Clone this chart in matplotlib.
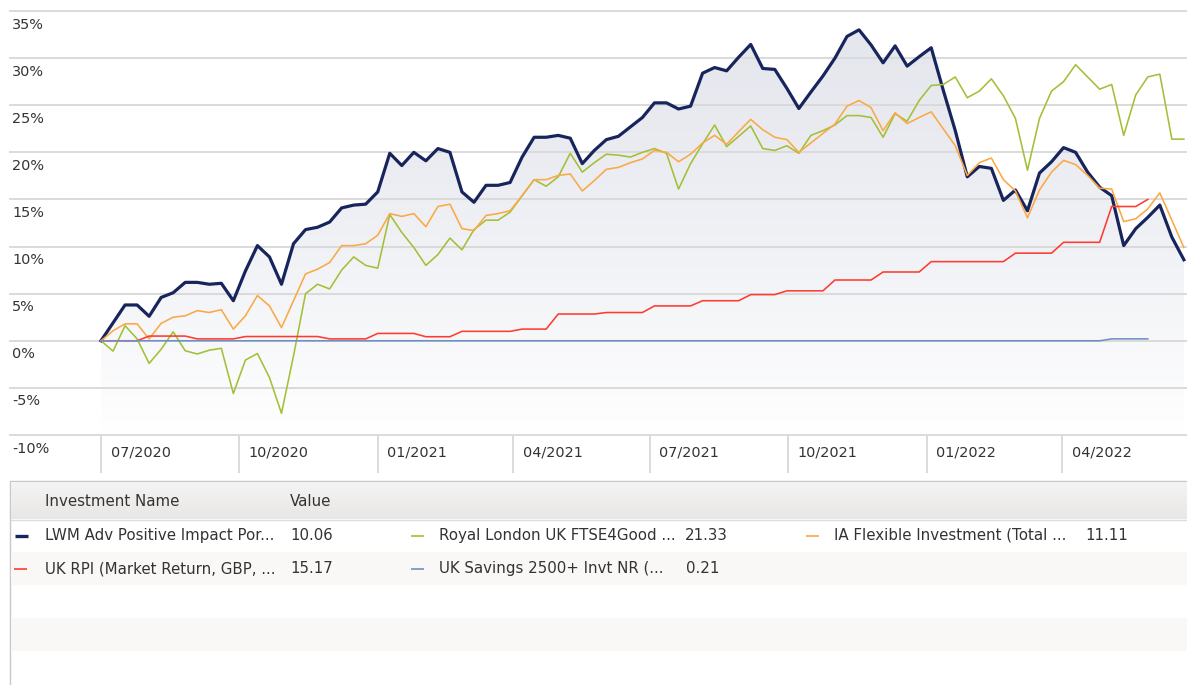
import numpy as np
import matplotlib
matplotlib.use("Agg")
import matplotlib.pyplot as plt
from matplotlib.patches import Rectangle, Polygon
from matplotlib import transforms

# ---- data (cumulative return, %) ----
start = np.datetime64("2020-07-01")
dates = start + np.arange(91) * np.timedelta64(8, "D")

lwm = [0, 1.9, 3.8, 3.8, 2.6, 4.6, 5.1, 6.2, 6.2, 6.0,
       6.1, 4.25, 7.4, 10.1, 8.9, 6.0, 10.3, 11.8, 12.05, 12.6,
       14.1, 14.4, 14.5, 15.8, 19.9, 18.6, 20.0, 19.1, 20.4, 20.0,
       15.8, 14.7, 16.5, 16.5, 16.8, 19.5, 21.6, 21.6, 21.8, 21.5,
       18.8, 20.2, 21.35, 21.7, 22.7, 23.7, 25.25, 25.25, 24.6, 24.9,
       28.4, 29.0, 28.65, 30.1, 31.45, 28.9, 28.8, 26.8, 24.65, 26.4,
       28.1, 30.0, 32.3, 33.0, 31.4, 29.5, 31.3, 29.15, 30.15, 31.1,
       26.6, 22.3, 17.4, 18.5, 18.3, 14.9, 16.0, 13.8, 17.8, 19.0,
       20.5, 20.0, 17.9, 16.3, 15.4, 10.1, 11.9, 13.1, 14.4, 11.0,
       8.6]

royal_london = [0, -1.1, 1.6, 0.2, -2.4, -0.9, 0.95, -1.06, -1.4, -1.0,
                -0.8, -5.6, -2.05, -1.35, -3.9, -7.7, -1.6, 5.0, 6.0, 5.5,
                7.5, 8.9, 8.0, 7.7, 13.4, 11.5, 9.9, 8.0, 9.15, 10.9,
                9.65, 11.8, 12.8, 12.8, 13.65, 15.4, 17.1, 16.4, 17.4, 19.9,
                17.9, 18.9, 19.8, 19.7, 19.5, 20.0, 20.4, 19.9, 16.1, 18.8,
                20.9, 22.9, 20.6, 21.7, 22.8, 20.4, 20.2, 20.7, 19.9, 21.8,
                22.3, 22.9, 23.9, 23.9, 23.7, 21.6, 24.1, 23.3, 25.5, 27.1,
                27.2, 28.0, 25.8, 26.5, 27.8, 26.0, 23.6, 18.1, 23.6, 26.5,
                27.5, 29.3, 28.0, 26.7, 27.2, 21.8, 26.1, 28.0, 28.3, 21.4,
                21.4]

ia_flexible = [0, 1.06, 1.8, 1.8, 0.2, 1.85, 2.5, 2.65, 3.2, 3.0,
               3.3, 1.24, 2.65, 4.8, 3.7, 1.4, 4.25, 7.1, 7.6, 8.3,
               10.1, 10.1, 10.3, 11.2, 13.5, 13.2, 13.5, 12.1, 14.25, 14.5,
               11.9, 11.7, 13.3, 13.5, 13.8, 15.4, 17.1, 17.1, 17.55, 17.7,
               15.9, 17.0, 18.2, 18.4, 18.9, 19.3, 20.2, 20.0, 19.0, 19.8,
               21.0, 21.8, 20.85, 22.2, 23.5, 22.4, 21.6, 21.35, 20.0, 21.0,
               22.0, 23.0, 24.9, 25.5, 24.75, 22.3, 24.2, 23.05, 23.7, 24.3,
               22.5, 20.7, 17.55, 18.9, 19.4, 17.1, 15.9, 13.05, 16.0, 17.9,
               19.15, 18.7, 17.55, 16.2, 16.1, 12.65, 12.95, 14.0, 15.7, 12.8,
               9.9]

uk_rpi = [0, 0, 0, 0, 0.5, 0.5, 0.5, 0.5, 0.2, 0.2,
          0.2, 0.2, 0.45, 0.45, 0.45, 0.45, 0.45, 0.45, 0.45, 0.2,
          0.2, 0.2, 0.2, 0.78, 0.78, 0.78, 0.78, 0.43, 0.43, 0.43,
          1.0, 1.0, 1.0, 1.0, 1.0, 1.24, 1.24, 1.24, 2.84, 2.84,
          2.84, 2.84, 3.0, 3.0, 3.0, 3.0, 3.7, 3.7, 3.7, 3.7,
          4.25, 4.25, 4.25, 4.25, 4.9, 4.9, 4.9, 5.3, 5.3, 5.3,
          5.3, 6.45, 6.45, 6.45, 6.45, 7.3, 7.3, 7.3, 7.3, 8.4,
          8.4, 8.4, 8.4, 8.4, 8.4, 8.4, 9.3, 9.3, 9.3, 9.3,
          10.45, 10.45, 10.45, 10.45, 14.25, 14.25, 14.25, 15.0]

uk_savings = [0, 0, 0, 0, 0, 0, 0, 0, 0, 0,
              0, 0, 0, 0, 0, 0, 0, 0, 0, 0,
              0, 0, 0, 0, 0, 0, 0, 0, 0, 0,
              0, 0, 0, 0, 0, 0, 0, 0, 0, 0,
              0, 0, 0, 0, 0, 0, 0, 0, 0, 0,
              0, 0, 0, 0, 0, 0, 0, 0, 0, 0,
              0, 0, 0, 0, 0, 0, 0, 0, 0, 0,
              0, 0, 0, 0, 0, 0, 0, 0, 0, 0,
              0, 0, 0, 0, 0.2, 0.2, 0.2, 0.2]

y_ticks = [-10, -5, 0, 5, 10, 15, 20, 25, 30, 35]
tick_dates = ["2020-07-01", "2020-10-01", "2021-01-01", "2021-04-01",
              "2021-07-01", "2021-10-01", "2022-01-01", "2022-04-01"]
tick_labels = ["07/2020", "10/2020", "01/2021", "04/2021",
               "07/2021", "10/2021", "01/2022", "04/2022"]

names = ["LWM Adv Positive Impact Por...", "Royal London UK FTSE4Good ...",
         "IA Flexible Investment (Total ...", "UK RPI (Market Return, GBP, ...",
         "UK Savings 2500+ Invt NR (..."]
values = ["10.06", "21.33", "11.11", "15.17", "0.21"]

navy = "#18255c"
green = "#a2c037"
orange = "#fba845"
red = "#ff3b30"
blue = "#6f8fc6"
grid_c = "#dadada"
text_c = "#333333"

W, H = 1187, 685
fig = plt.figure(figsize=(W / 100, H / 100), dpi=100)

# ---- table overlay, pixel coordinates ----
tab = fig.add_axes([0, 0, 1, 1])
tab.set_xlim(0, W)
tab.set_ylim(H, 0)
tab.axis("off")

tab.add_patch(Rectangle((10, 481), 1200, 220, facecolor="white",
                        edgecolor="#c8c8c8", lw=1.0))
hdr = np.linspace(0, 1, 64).reshape(-1, 1, 1)
hdr_img = np.array([0.957, 0.957, 0.957]) + (np.array([0.91, 0.905, 0.9]) - 0.957) * hdr
tab.imshow(hdr_img, extent=[11, W, 519, 482], aspect="auto", zorder=1)
tab.plot([11, W], [519.5, 519.5], color="#dcdcdc", lw=1.0, zorder=2)
for y0 in [552, 618]:
    tab.add_patch(Rectangle((11, y0), W, 33, facecolor="#f9f8f7",
                            edgecolor="none", zorder=1))

fs = 10.8
tab.text(45, 501, "Investment Name", fontsize=fs, color=text_c, va="center", zorder=3)
tab.text(290, 501, "Value", fontsize=fs, color=text_c, va="center", zorder=3)

cells = [(0, 535.5, 15, 45, 290, navy, 2.4),
         (1, 535.5, 411, 439, 685, green, 1.2),
         (2, 535.5, 806, 834, 1085, orange, 1.2),
         (3, 568.5, 14, 45, 290, red, 1.2),
         (4, 568.5, 411, 439, 686, blue, 1.2)]
for k, yy, dx, nx, vx, col, lw in cells:
    tab.plot([dx, dx + 13], [yy, yy], color=col, lw=lw, solid_capstyle="butt", zorder=3)
    tab.text(nx, yy, names[k], fontsize=fs, color=text_c, va="center", zorder=3)
    tab.text(vx, yy, values[k], fontsize=fs, color=text_c, va="center", zorder=3)

# ---- chart ----
ax = fig.add_axes([10 / W, 1 - 435 / H, 1177 / W, 424 / H])
ax.set_facecolor("none")
x = (dates - start) / np.timedelta64(1, "D")
px_day = 1.504

# gradient area under the main fund
top = max(lwm)
g = np.linspace(0, 1, 256).reshape(-1, 1, 1) ** 1.3
c_top = np.array([229, 231, 238]) / 255
img = c_top + (1 - c_top) * g
im = ax.imshow(img, extent=[x[0], x[-1], -10, top], aspect="auto",
               origin="upper", zorder=1)
poly = Polygon(np.column_stack([np.r_[x[0], x, x[-1]], np.r_[-10, lwm, -10]]),
               closed=True, transform=ax.transData)
im.set_clip_path(poly)

for v in y_ticks:
    ax.axhline(v, color=grid_c, lw=1.4, zorder=1.5, clip_on=False)

ax.plot(x, lwm, color=navy, lw=2.3, zorder=3, solid_joinstyle="round")
ax.plot(x, royal_london, color=green, lw=1.15, zorder=4)
ax.plot(x, ia_flexible, color=orange, lw=1.15, zorder=5)
ax.plot(x[:len(uk_rpi)], uk_rpi, color=red, lw=1.15, zorder=6)
ax.plot(x[:len(uk_savings)], uk_savings, color=blue, lw=1.15, zorder=7)

ax.set_xlim(-91 / px_day, 1086 / px_day)
ax.set_ylim(-10, 35)
ax.set_xticks([])
ax.set_yticks([])
for s in ax.spines.values():
    s.set_visible(False)

ytr = transforms.offset_copy(ax.get_yaxis_transform(), fig=fig, x=0, y=-17.6, units="dots")
for v in y_ticks:
    ax.text(2 / 1177, v, f"{v}%", transform=ytr, fontsize=10.4, color=text_c,
            va="baseline", ha="left")

xtr = ax.get_xaxis_transform()
ltr = transforms.offset_copy(xtr, fig=fig, x=9.5, y=-21.7, units="dots")
for d, lab in zip(tick_dates, tick_labels):
    xd = (np.datetime64(d) - start) / np.timedelta64(1, "D")
    ax.plot([xd, xd], [0, -37 / 424], transform=xtr, color=grid_c, lw=1.4,
            clip_on=False, zorder=1.5)
    ax.text(xd, 0, lab, transform=ltr, fontsize=10.4, color=text_c,
            va="baseline", ha="left")

fig.savefig("out.png", dpi=100)
